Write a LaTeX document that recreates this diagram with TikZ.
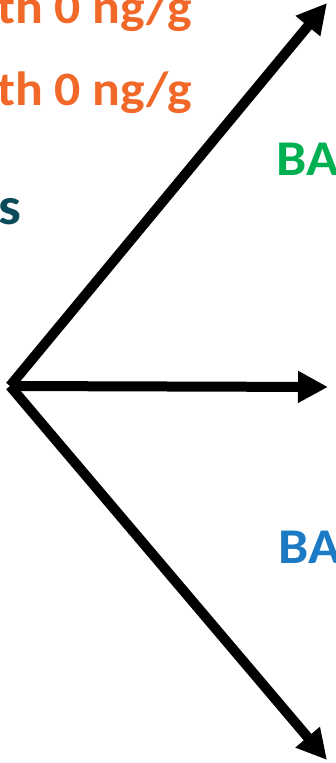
\documentclass[tikz,border=0pt]{standalone}
\usepackage{fontspec}
\setmainfont{Carlito}
\usepackage{xcolor}
\usepackage{graphicx}
\usetikzlibrary{arrows.meta, positioning}
\definecolor{doseorange}{RGB}{242,104,40}
\definecolor{groupteal}{RGB}{12,76,90}
\definecolor{bagreen}{RGB}{0,176,80}
\definecolor{bablue}{RGB}{28,122,196}
\newcommand{\widelabel}[1]{\scalebox{1.08}[1]{#1}}
\tikzset{
  dosetext/.style={anchor=base west, inner sep=0pt, text=doseorange,
                   font=\fontsize{48}{52}\selectfont\bfseries},
  grouptext/.style={anchor=base west, inner sep=0pt, text=groupteal,
                    font=\fontsize{53}{56}\selectfont\bfseries},
  batext/.style={anchor=base west, inner sep=0pt,
                 font=\fontsize{50}{54}\selectfont\bfseries},
  bigarrow/.style={-{Triangle[length=30pt, width=30pt]}, line width=10pt},
}

\begin{document}
\begin{tikzpicture}[x=1pt, y=-1pt]
  \useasboundingbox (0,0) rectangle (335,763);
  \clip (0,0) rectangle (335,763);

  % labels, cut by the frame
  \node[dosetext] (dose1) at (-3,23) {\widelabel{th 0 ng/g}};
  \node[dosetext] (dose2) at (-3,105) {\widelabel{th 0 ng/g}};
  \node[grouptext] (grp) at (-2,224) {\widelabel{s}};
  \node[batext, text=bagreen] (baup) at (276,175) {\widelabel{BA}};
  \node[batext, text=bablue] (badown) at (278,563) {\widelabel{BA}};

  % arrows out of the split point
  \coordinate (split) at (10,386);
  \coordinate (tipup) at (327,3);
  \coordinate (tipmid) at (328,387);
  \coordinate (tipdown) at (327,760);

  \draw[bigarrow] (split) -- (tipup);
  \draw[bigarrow] (split) -- (tipmid);
  \draw[bigarrow] (split) -- (tipdown);
\end{tikzpicture}
\end{document}
